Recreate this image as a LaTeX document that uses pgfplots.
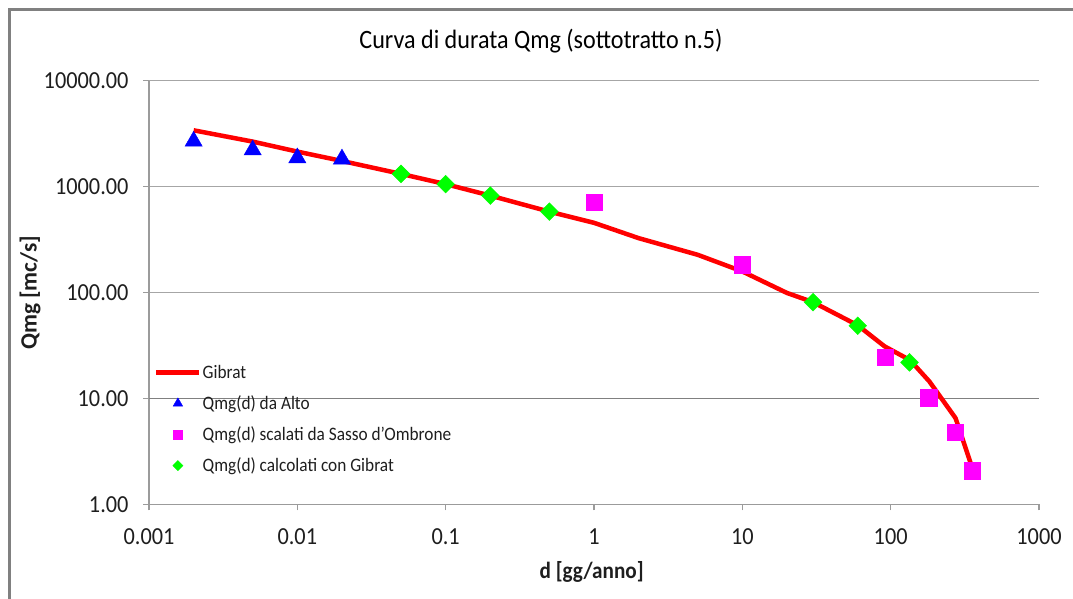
\documentclass[border=0pt]{standalone}
\usepackage{fontspec}
\setmainfont{Carlito}[FakeStretch=0.91]
\newfontfamily\plainfont{Carlito}
\usepackage{pgfplots}
\pgfplotsset{compat=1.18}
\definecolor{gridgray}{RGB}{166,166,166}
\definecolor{darkgrid}{RGB}{128,128,128}
\definecolor{axgray}{RGB}{155,155,155}
\definecolor{framegray}{RGB}{128,128,128}
\definecolor{txt}{RGB}{30,30,30}
\definecolor{mag}{RGB}{255,0,255}
\definecolor{grn}{RGB}{0,255,0}
\definecolor{blu}{RGB}{0,0,255}
\definecolor{rd}{RGB}{255,0,0}
\begin{document}
\begin{tikzpicture}
\useasboundingbox (0pt,0pt) rectangle (1073pt,599pt);
\draw[framegray, line width=2.5pt] (9.5pt,-3pt) -- (9.5pt,589.5pt) -- (1073pt,589.5pt);
\begin{axis}[
  at={(149pt,94.7pt)}, anchor=south west,
  scale only axis, width=890pt, height=423.6pt,
  xmode=log, ymode=log, xmin=0.001, xmax=1000, ymin=1, ymax=10000,
  axis x line*=bottom, axis y line*=left,
  axis line style={axgray, line width=1.2pt, -},
  xtick={0.001,0.01,0.1,1,10,100,1000},
  xticklabels={0.001,0.01,0.1,1,10,100,1000},
  ytick={1,10,100,1000,10000},
  yticklabels={1.00,10.00,100.00,1000.00,10000.00},
  extra y ticks={10}, extra y tick labels={},
  extra y tick style={major tick length=0pt, major grid style={darkgrid, line width=1.5pt}},
  tick align=outside, major tick length=6pt, minor tick length=0pt,
  tick style={axgray, line width=1.2pt},
  ymajorgrids, major grid style={gridgray, line width=1.2pt},
  ticklabel style={font=\fontsize{24.5}{29}\selectfont, text=txt},
  xticklabel style={yshift=-15pt},
  yticklabel style={xshift=-11pt},
  title={Curva di durata Qmg (sottotratto n.5)},
  title style={at={(axis description cs:0.4404,1.0607)}, anchor=base, font=\fontsize{26.5}{30}\selectfont, text=black},
  xlabel={d [gg/anno]},
  every axis x label/.style={at={(axis description cs:0.4974,-0.1747)}, anchor=base, font=\bfseries\fontsize{23.3}{28}\selectfont, text=txt},
  ylabel={Qmg [mc/s]},
  every axis y label/.style={at={(axis description cs:-0.1337,0.4988)}, rotate=90, anchor=center, font=\plainfont\bfseries\fontsize{23.3}{28}\selectfont, text=txt},
  legend style={at={(axis description cs:0.0056,0.331)}, anchor=north west, draw=none, fill=none,
    font=\fontsize{19}{22}\selectfont, text=txt, inner sep=0pt, row sep=13.7pt,
    nodes={inner sep=1pt}},
  legend cell align=left,
]
% Gibrat curve
\addplot[rd, line width=4.5pt, line join=round, forget plot] coordinates {
(0.002,3400) (0.005,2660) (0.01,2140) (0.02,1746) (0.05,1318) (0.1,1055)
(0.2,822) (0.5,580) (1,455) (2,326) (5,227) (10,158) (20,99) (30,81)
(60,49) (91,31) (135,23) (182,14.5) (274,6.5) (355,2.2)
};
% Qmg(d) da Alto
\addplot[only marks, forget plot, mark=triangle*, mark size=10pt,
  mark options={fill=blu, draw=blu, yshift=-2.5pt}] coordinates {
(0.002,2830) (0.005,2340) (0.01,1970) (0.02,1920)
};
% Qmg(d) scalati da Sasso d'Ombrone
\addplot[only marks, forget plot, mark=square*, mark size=8.3pt,
  mark options={fill=mag, draw=mag}] coordinates {
(1,710) (10,182) (91.7,24.5) (181,10.1) (273,4.8) (355,2.07)
};
% Qmg(d) calcolati con Gibrat
\addplot[only marks, forget plot, mark=square*, mark size=6.3pt,
  mark options={fill=grn, draw=grn, rotate=45}] coordinates {
(0.05,1318) (0.1,1055) (0.2,822) (0.5,580) (30,81) (60,48.5) (134,21.9)
};
\addlegendimage{legend image code/.code={\draw[rd, line width=4.5pt] (0pt,0pt) -- (43pt,0pt);}}
\addlegendentry{Gibrat}
\addlegendimage{legend image code/.code={\path[draw=none] (0pt,0pt) -- (43pt,0pt);
  \path[draw=none, mark=triangle*, mark size=5.5pt, mark options={fill=blu, draw=blu}] plot coordinates {(21.5pt,0pt)};}}
\addlegendentry{Qmg(d) da Alto}
\addlegendimage{legend image code/.code={\path[draw=none] (0pt,0pt) -- (43pt,0pt);
  \path[draw=none, mark=square*, mark size=4.5pt, mark options={fill=mag, draw=mag}] plot coordinates {(21.5pt,0pt)};}}
\addlegendentry{Qmg(d) scalati da Sasso d'Ombrone}
\addlegendimage{legend image code/.code={\path[draw=none] (0pt,0pt) -- (43pt,0pt);
  \path[draw=none, mark=square*, mark size=3.6pt, mark options={fill=grn, draw=grn, rotate=45}] plot coordinates {(21.5pt,0pt)};}}
\addlegendentry{Qmg(d) calcolati con Gibrat}
\end{axis}
\end{tikzpicture}
\end{document}
